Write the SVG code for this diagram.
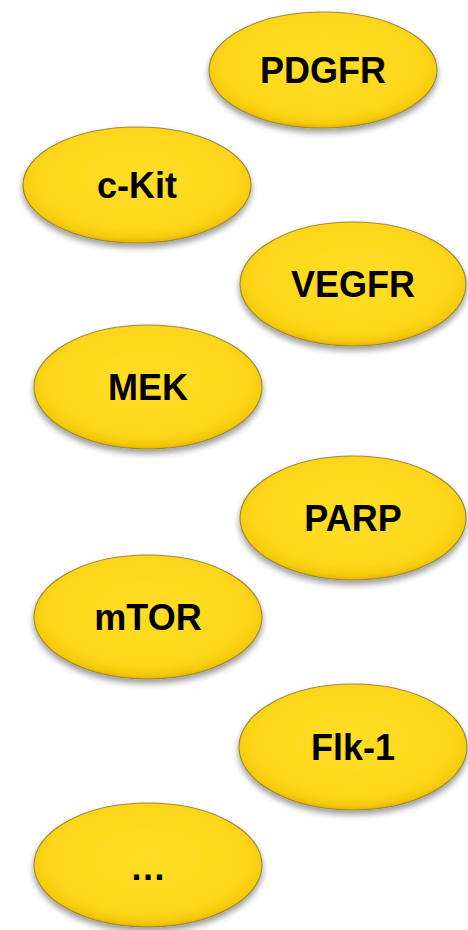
<svg xmlns="http://www.w3.org/2000/svg" width="468" height="930" viewBox="0 0 468 930">
<defs>
<radialGradient id="g" cx="50%" cy="45%" r="55%">
<stop offset="0%" stop-color="#FFDE26"/>
<stop offset="80%" stop-color="#FDD61A"/>
<stop offset="93%" stop-color="#F6CB0C"/>
<stop offset="100%" stop-color="#E2B400"/>
</radialGradient>
<filter id="sh" x="-20%" y="-20%" width="140%" height="150%">
<feGaussianBlur in="SourceAlpha" stdDeviation="3"/>
<feOffset dx="0" dy="4" result="b"/>
<feComponentTransfer><feFuncA type="linear" slope="0.4"/></feComponentTransfer>
<feMerge><feMergeNode/><feMergeNode in="SourceGraphic"/></feMerge>
</filter>
</defs>
<style>
.n ellipse{fill:url(#g);stroke:#9C8A3A;stroke-width:1.2;filter:url(#sh)}
.n text{font-family:"Liberation Sans",Arial,sans-serif;font-weight:bold;font-size:36px;fill:#000;text-anchor:middle}
</style>
<rect width="468" height="930" fill="#fff"/>
<g id="connectors"/>
<g id="n-pdgfr" class="n"><ellipse cx="323" cy="70" rx="114" ry="58"/><text x="323" y="83">PDGFR</text></g>
<g id="n-ckit" class="n"><ellipse cx="137" cy="185" rx="114" ry="58"/><text x="137" y="198">c-Kit</text></g>
<g id="n-vegfr" class="n"><ellipse cx="353" cy="284" rx="113" ry="62"/><text x="353" y="297">VEGFR</text></g>
<g id="n-mek" class="n"><ellipse cx="148" cy="387" rx="114" ry="62"/><text x="148" y="400">MEK</text></g>
<g id="n-parp" class="n"><ellipse cx="353" cy="518" rx="113" ry="62"/><text x="353" y="531">PARP</text></g>
<g id="n-mtor" class="n"><ellipse cx="148" cy="617" rx="114" ry="62"/><text x="148" y="630">mTOR</text></g>
<g id="n-flk1" class="n"><ellipse cx="353" cy="747" rx="114" ry="63"/><text x="353" y="760">Flk-1</text></g>
<g id="n-more" class="n"><ellipse cx="148" cy="865" rx="114" ry="62"/><text x="148" y="880">…</text></g>
</svg>
